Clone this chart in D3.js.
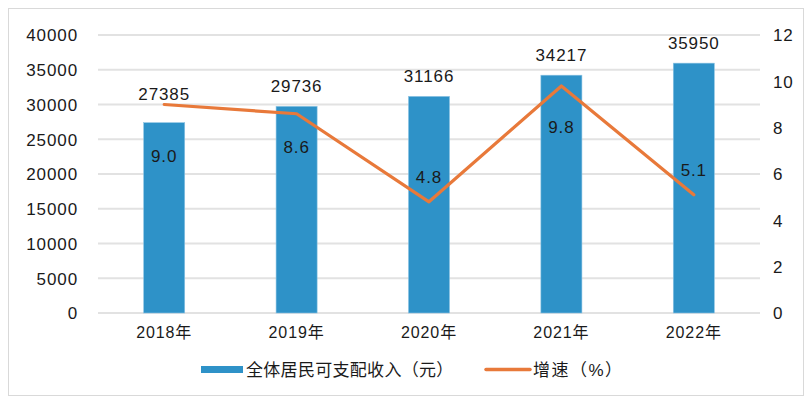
<!DOCTYPE html>
<html><head><meta charset="utf-8">
<script src="https://cdn.jsdelivr.net/npm/d3@7"></script>
<style>
body{margin:0;background:#fff;}
text{font-family:"Liberation Sans",Arial,"Noto Sans CJK SC",sans-serif;fill:#1a1a1a;}
</style></head><body>
<svg id="c" width="809" height="402"></svg>
<script>
const categories = ["2018年","2019年","2020年","2021年","2022年"];
const income = [27385, 29736, 31166, 34217, 35950];
const growth = [9.0, 8.6, 4.8, 9.8, 5.1];
const leftTicks = [0,5000,10000,15000,20000,25000,30000,35000,40000];
const rightTicks = [0,2,4,6,8,10,12];
const seriesNames = ["全体居民可支配收入（元）","增速（%）"];

// layout: vertical offsets of growth labels relative to their points (px)
const growthLabelDy = [52, 33, -25, 41, -25];

const svg = d3.select("#c");
const m = {l:98, r:760, t:35, b:313};
const barColor = "#2E92C8", lineColor = "#E8793A";

svg.append("rect").attr("x",8.5).attr("y",8.5).attr("width",795).attr("height",387)
  .attr("fill","#fff").attr("stroke","#d9d9d9").attr("stroke-width",1);

const x = d3.scaleBand().domain(categories).range([m.l,m.r]).paddingInner(0.69).paddingOuter(0.345);
const y = d3.scaleLinear().domain([0,40000]).range([m.b,m.t]);
const y2 = d3.scaleLinear().domain([0,12]).range([m.b,m.t]);

svg.append("g").selectAll("line").data(leftTicks).join("line")
  .attr("x1",m.l).attr("x2",m.r).attr("y1",d=>y(d)).attr("y2",d=>y(d))
  .attr("stroke","#e2e2e2").attr("stroke-width",2);

const la = svg.append("g").attr("transform",`translate(${m.l-20},0)`)
  .call(d3.axisLeft(y).tickValues(leftTicks).tickFormat(d3.format("d")).tickSize(0).tickPadding(0));
la.select(".domain").remove();
la.selectAll("text").style("font-size","17px").style("letter-spacing","0.9px").attr("dy","0.35em");

const ra = svg.append("g").attr("transform",`translate(${m.r+13},0)`)
  .call(d3.axisRight(y2).tickValues(rightTicks).tickSize(0).tickPadding(0));
ra.select(".domain").remove();
ra.selectAll("text").style("font-size","17px").style("letter-spacing","0.9px").attr("dy","0.35em");

const xa = svg.append("g").attr("transform",`translate(0,${m.b+14})`)
  .call(d3.axisBottom(x).tickSize(0).tickPadding(0));
xa.select(".domain").remove();
xa.selectAll("text").style("font-size","16px").style("letter-spacing","0.9px").attr("dy","0.71em");

svg.append("g").selectAll("rect").data(income).join("rect")
  .attr("x",(d,i)=>x(categories[i])).attr("width",x.bandwidth())
  .attr("y",d=>y(d)).attr("height",d=>m.b-y(d))
  .attr("fill",barColor).attr("stroke","#8cc3e3").attr("stroke-width",0.6);

svg.append("g").selectAll("text").data(income).join("text")
  .attr("x",(d,i)=>x(categories[i])+x.bandwidth()/2)
  .attr("y",(d,i)=>Math.min(y(d)-20, y2(growth[i])-10))
  .attr("text-anchor","middle").attr("dy","0.35em")
  .style("font-size","17px").style("letter-spacing","0.9px").text(d=>d);

const line = d3.line().x((d,i)=>x(categories[i])+x.bandwidth()/2).y(d=>y2(d));
svg.append("path").datum(growth).attr("d",line).attr("fill","none")
  .attr("stroke",lineColor).attr("stroke-width",3.2).attr("stroke-linejoin","round").attr("stroke-linecap","round");

svg.append("g").selectAll("text").data(growth).join("text")
  .attr("x",(d,i)=>x(categories[i])+x.bandwidth()/2)
  .attr("y",(d,i)=>y2(d)+growthLabelDy[i])
  .attr("text-anchor","middle").attr("dy","0.35em")
  .style("font-size","17px").style("letter-spacing","0.9px").text(d=>d.toFixed(1));

const lg = svg.append("g");
lg.append("rect").attr("x",201).attr("y",366).attr("width",42).attr("height",7).attr("fill",barColor);
lg.append("text").attr("x",246).attr("y",370).attr("dy","0.35em").style("font-size","17px").style("letter-spacing","0.3px").text(seriesNames[0]);
lg.append("line").attr("x1",486).attr("x2",530).attr("y1",369.5).attr("y2",369.5)
  .attr("stroke",lineColor).attr("stroke-width",3.5).attr("stroke-linecap","round");
lg.append("text").attr("x",533).attr("y",370).attr("dy","0.35em").style("font-size","17px").style("letter-spacing","1.5px").text(seriesNames[1]);
</script></body></html>
